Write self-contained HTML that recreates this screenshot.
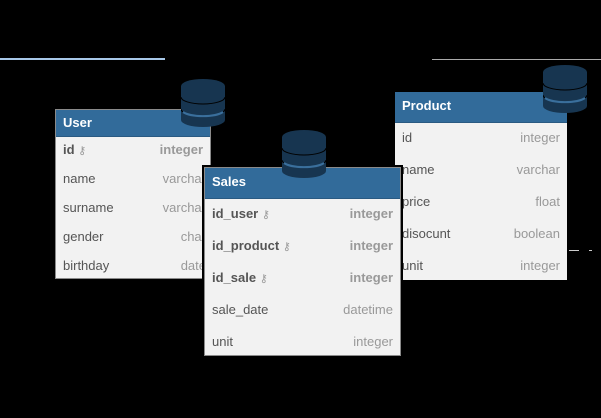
<!DOCTYPE html>
<html><head><meta charset="utf-8"><style>
body{margin:0;width:601px;height:418px;background:#000;position:relative;overflow:hidden;font-family:"Liberation Sans",sans-serif}
.t{position:absolute;background:#f2f2f2;border:1px solid #8a8a8a;overflow:hidden;box-sizing:border-box}
.h{background:#326b9a;color:#fff;font-weight:bold;font-size:13px;padding-left:7px;box-sizing:border-box;border-bottom:1px solid #2a5a82}
.r{position:relative;font-size:13px;color:#555;padding-left:7px;white-space:nowrap}
.r span{position:absolute;right:7px;color:#999}
.b{font-weight:bold}
.k{font-weight:normal;color:#888;font-size:11px}
.db{position:absolute}
</style></head><body>
<div style="position:absolute;left:0;top:58px;width:165px;height:2px;background:#a8c8e8"></div>
<div style="position:absolute;left:432px;top:59px;width:169px;height:1px;background:#aaa"></div>
<div style="position:absolute;left:569px;top:250px;width:10px;height:1px;background:#ccc"></div>
<div style="position:absolute;left:589px;top:250px;width:3px;height:1px;background:#ccc"></div>

<div class="t" style="left:55px;top:109px;width:156px;height:170px">
<div class="h" style="height:27px;line-height:25px">User</div>
<div class="r b" style="height:29px;line-height:26px">id <span class="k" style="position:static">⚷</span><span class="b">integer</span></div>
<div class="r" style="height:29px;line-height:26px">name<span style="right:4px">varchar</span></div>
<div class="r" style="height:29px;line-height:26px">surname<span style="right:4px">varchar</span></div>
<div class="r" style="height:29px;line-height:26px">gender<span style="right:4px">char</span></div>
<div class="r" style="height:29px;line-height:26px">birthday<span style="right:4px">date</span></div>
</div>

<div class="t" style="left:395px;top:92px;width:172px;height:188px;border:none">
<div class="h" style="height:31px;line-height:28px">Product</div>
<div class="r" style="height:32px;line-height:30px">id<span>integer</span></div>
<div class="r" style="height:32px;line-height:30px">name<span>varchar</span></div>
<div class="r" style="height:32px;line-height:30px">price<span>float</span></div>
<div class="r" style="height:32px;line-height:30px">disocunt<span>boolean</span></div>
<div class="r" style="height:32px;line-height:30px">unit<span>integer</span></div>
</div>

<div style="position:absolute;left:202px;top:165px;width:201px;height:192px;background:#000"></div>
<div class="t" style="left:204px;top:167px;width:197px;height:189px">
<div class="h" style="height:31px;line-height:28px">Sales</div>
<div class="r b" style="height:32px;line-height:30px">id_user <span class="k" style="position:static">⚷</span><span class="b">integer</span></div>
<div class="r b" style="height:32px;line-height:30px">id_product <span class="k" style="position:static">⚷</span><span class="b">integer</span></div>
<div class="r b" style="height:32px;line-height:30px">id_sale <span class="k" style="position:static">⚷</span><span class="b">integer</span></div>
<div class="r" style="height:32px;line-height:30px">sale_date<span>datetime</span></div>
<div class="r" style="height:32px;line-height:30px">unit<span>integer</span></div>
</div>

<svg class="db" style="left:181px;top:79px" width="44" height="49" viewBox="0 0 44 49">
<path d="M0 7 A22 7 0 0 1 44 7 V41 A22 7 0 0 1 0 41Z" fill="#173550"/>
<path d="M0 18 A22 7 0 0 0 44 18 M0 30 A22 7 0 0 0 44 30" stroke="#000" fill="none"/>
<path d="M2 33 A22 7 0 0 0 42 33" stroke="#3a6f9c" stroke-width="2" fill="none"/></svg>
<svg class="db" style="left:282px;top:130px" width="44" height="49" viewBox="0 0 44 49">
<path d="M0 7 A22 7 0 0 1 44 7 V41 A22 7 0 0 1 0 41Z" fill="#173550"/>
<path d="M0 18 A22 7 0 0 0 44 18 M0 30 A22 7 0 0 0 44 30" stroke="#000" fill="none"/>
<path d="M2 33 A22 7 0 0 0 42 33" stroke="#3a6f9c" stroke-width="2" fill="none"/></svg>
<svg class="db" style="left:543px;top:65px" width="44" height="49" viewBox="0 0 44 49">
<path d="M0 7 A22 7 0 0 1 44 7 V41 A22 7 0 0 1 0 41Z" fill="#173550"/>
<path d="M0 18 A22 7 0 0 0 44 18 M0 30 A22 7 0 0 0 44 30" stroke="#000" fill="none"/>
<path d="M2 33 A22 7 0 0 0 42 33" stroke="#3a6f9c" stroke-width="2" fill="none"/></svg>
</body></html>
